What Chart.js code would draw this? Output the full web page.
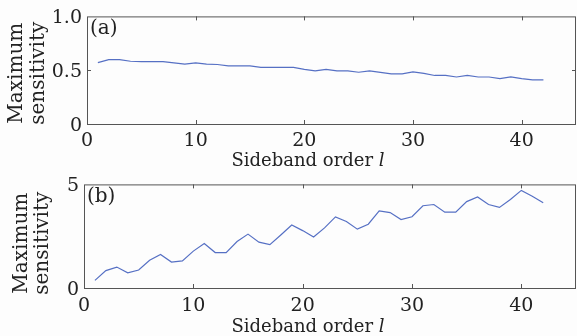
<!DOCTYPE html>
<html>
<head>
<meta charset="utf-8">
<script src="https://cdn.jsdelivr.net/npm/chart.js@4.4.1/dist/chart.umd.min.js"></script>
<style>
  body { margin: 0; background: #fdfdfd; }
  .panel { position: absolute; left: 0; width: 577px; height: 168px; }
</style>
</head>
<body>
<div class="panel" style="top:0"><canvas id="chartA" width="577" height="168"></canvas></div>
<div class="panel" style="top:168px"><canvas id="chartB" width="577" height="168"></canvas></div>
<script>
const orders = [1,2,3,4,5,6,7,8,9,10,11,12,13,14,15,16,17,18,19,20,21,
  22,23,24,25,26,27,28,29,30,31,32,33,34,35,36,37,38,39,40,41,42];

const sensA = [0.571,0.598,0.598,0.583,0.580,0.580,0.580,0.568,0.556,0.568,0.556,
  0.553,0.541,0.541,0.540,0.526,0.526,0.526,0.526,0.508,0.493,0.508,0.493,0.493,
  0.481,0.493,0.480,0.466,0.466,0.484,0.470,0.451,0.451,0.437,0.451,0.437,0.437,
  0.422,0.437,0.422,0.410,0.410];

const sensB = [0.37,0.84,1.01,0.73,0.87,1.34,1.62,1.25,1.31,1.78,2.15,1.71,1.71,
  2.24,2.60,2.21,2.09,2.56,3.04,2.77,2.46,2.90,3.43,3.21,2.84,3.08,3.72,3.64,
  3.30,3.44,3.97,4.03,3.66,3.66,4.17,4.39,4.03,3.89,4.27,4.71,4.43,4.11];

const xTicks = [0, 10, 20, 30, 40];
const yTicksA = [0, 0.5, 1.0];
const yLabelsA = ["0", "0.5", "1.0"];
const yTicksB = [0, 5];
const yLabelsB = ["0", "5"];

const xTitle = "Sideband order ";
const xTitleVar = "l";
const yTitle = ["Maximum", "sensitivity"];

const FONT = "DejaVu Serif";
const INK = "#222";
const LINE = "#5670c4";

// box, inward ticks, panel tag and the axis titles
const framePlugin = {
  id: "frame",
  afterDraw(chart) {
    const { ctx, chartArea: a } = chart;
    const xs = chart.scales.x, ys = chart.scales.y;
    const o = chart.options.deco;
    ctx.save();
    ctx.strokeStyle = "#555";
    ctx.lineWidth = 1;
    ctx.strokeRect(a.left + 0.5, a.top + 0.5, a.right - a.left - 1, a.bottom - a.top);
    const len = 4;
    ctx.beginPath();
    xs.ticks.forEach(t => {
      const px = Math.round(xs.getPixelForValue(t.value)) + 0.5;
      if (px <= a.left + 1 || px >= a.right - 1) return;
      ctx.moveTo(px, a.bottom); ctx.lineTo(px, a.bottom - len);
      ctx.moveTo(px, a.top); ctx.lineTo(px, a.top + len);
    });
    ys.ticks.forEach(t => {
      const py = Math.round(ys.getPixelForValue(t.value)) + 0.5;
      if (py <= a.top + 1 || py >= a.bottom - 1) return;
      ctx.moveTo(a.left, py); ctx.lineTo(a.left + len, py);
      ctx.moveTo(a.right, py); ctx.lineTo(a.right - len, py);
    });
    ctx.stroke();

    ctx.fillStyle = INK;
    ctx.font = "20px '" + FONT + "'";
    ctx.textAlign = "left";
    ctx.textBaseline = "top";
    ctx.fillText(o.tag, a.left + 3, a.top + 2);

    // x title with italic l
    ctx.textBaseline = "alphabetic";
    ctx.font = "18px '" + FONT + "'";
    const w1 = ctx.measureText(xTitle).width;
    ctx.font = "italic 18px '" + FONT + "'";
    const w2 = ctx.measureText(xTitleVar).width;
    const x0 = a.left + o.titleDx - (w1 + w2) / 2;
    ctx.font = "18px '" + FONT + "'";
    ctx.fillText(xTitle, x0, o.titleY);
    ctx.font = "italic 18px '" + FONT + "'";
    ctx.fillText(xTitleVar, x0 + w1, o.titleY);

    // y title, two rotated lines
    ctx.font = "20px '" + FONT + "'";
    ctx.textAlign = "center";
    const cy = (a.top + a.bottom) / 2 + o.yTitleDy;
    yTitle.forEach((line, i) => {
      ctx.save();
      ctx.translate(o.yTitleX[i], cy);
      ctx.rotate(-Math.PI / 2);
      ctx.fillText(line, 0, 0);
      ctx.restore();
    });
    ctx.restore();
  }
};

function makeChart(id, values, yMax, yTicks, yLabels, box) {
  const ctx = document.getElementById(id).getContext("2d");
  return new Chart(ctx, {
    type: "line",
    data: {
      datasets: [{
        data: orders.map((o, i) => ({ x: o, y: values[i] })),
        borderColor: LINE,
        borderWidth: 1.2,
        pointRadius: 0,
        tension: 0,
        fill: false
      }]
    },
    options: {
      responsive: false,
      animation: false,
      deco: box,
      layout: { padding: { top: box.top, right: 1, left: 0, bottom: 0 } },
      plugins: { legend: { display: false }, tooltip: { enabled: false } },
      scales: {
        x: {
          type: "linear",
          min: 0,
          max: 45,
          afterBuildTicks: s => { s.ticks = xTicks.map(v => ({ value: v })); },
          afterFit: s => { s.height = box.xh; },
          grid: { display: false, drawTicks: false },
          border: { display: false },
          ticks: { color: INK, font: { family: FONT, size: 19 }, padding: box.xpad, maxRotation: 0 }
        },
        y: {
          min: 0,
          max: yMax,
          afterBuildTicks: s => { s.ticks = yTicks.map(v => ({ value: v })); },
          afterFit: s => { s.width = box.left; },
          grid: { display: false, drawTicks: false },
          border: { display: false },
          ticks: {
            color: INK,
            font: { family: FONT, size: 19 },
            padding: 5,
            labelOffset: 2,
            callback: (v) => yLabels[yTicks.indexOf(v)]
          }
        }
      }
    },
    plugins: [framePlugin]
  });
}

makeChart("chartA", sensA, 1.0, yTicksA, yLabelsA,
  { tag: "(a)", top: 12, left: 87, xh: 44, xpad: 6, titleDx: 221, titleY: 166, yTitleX: [22, 44], yTitleDy: 3 });
makeChart("chartB", sensB, 5, yTicksB, yLabelsB,
  { tag: "(b)", top: 13, left: 84, xh: 48, xpad: 7, titleDx: 224, titleY: 164, yTitleX: [27, 48], yTitleDy: 7 });
</script>
</body>
</html>
